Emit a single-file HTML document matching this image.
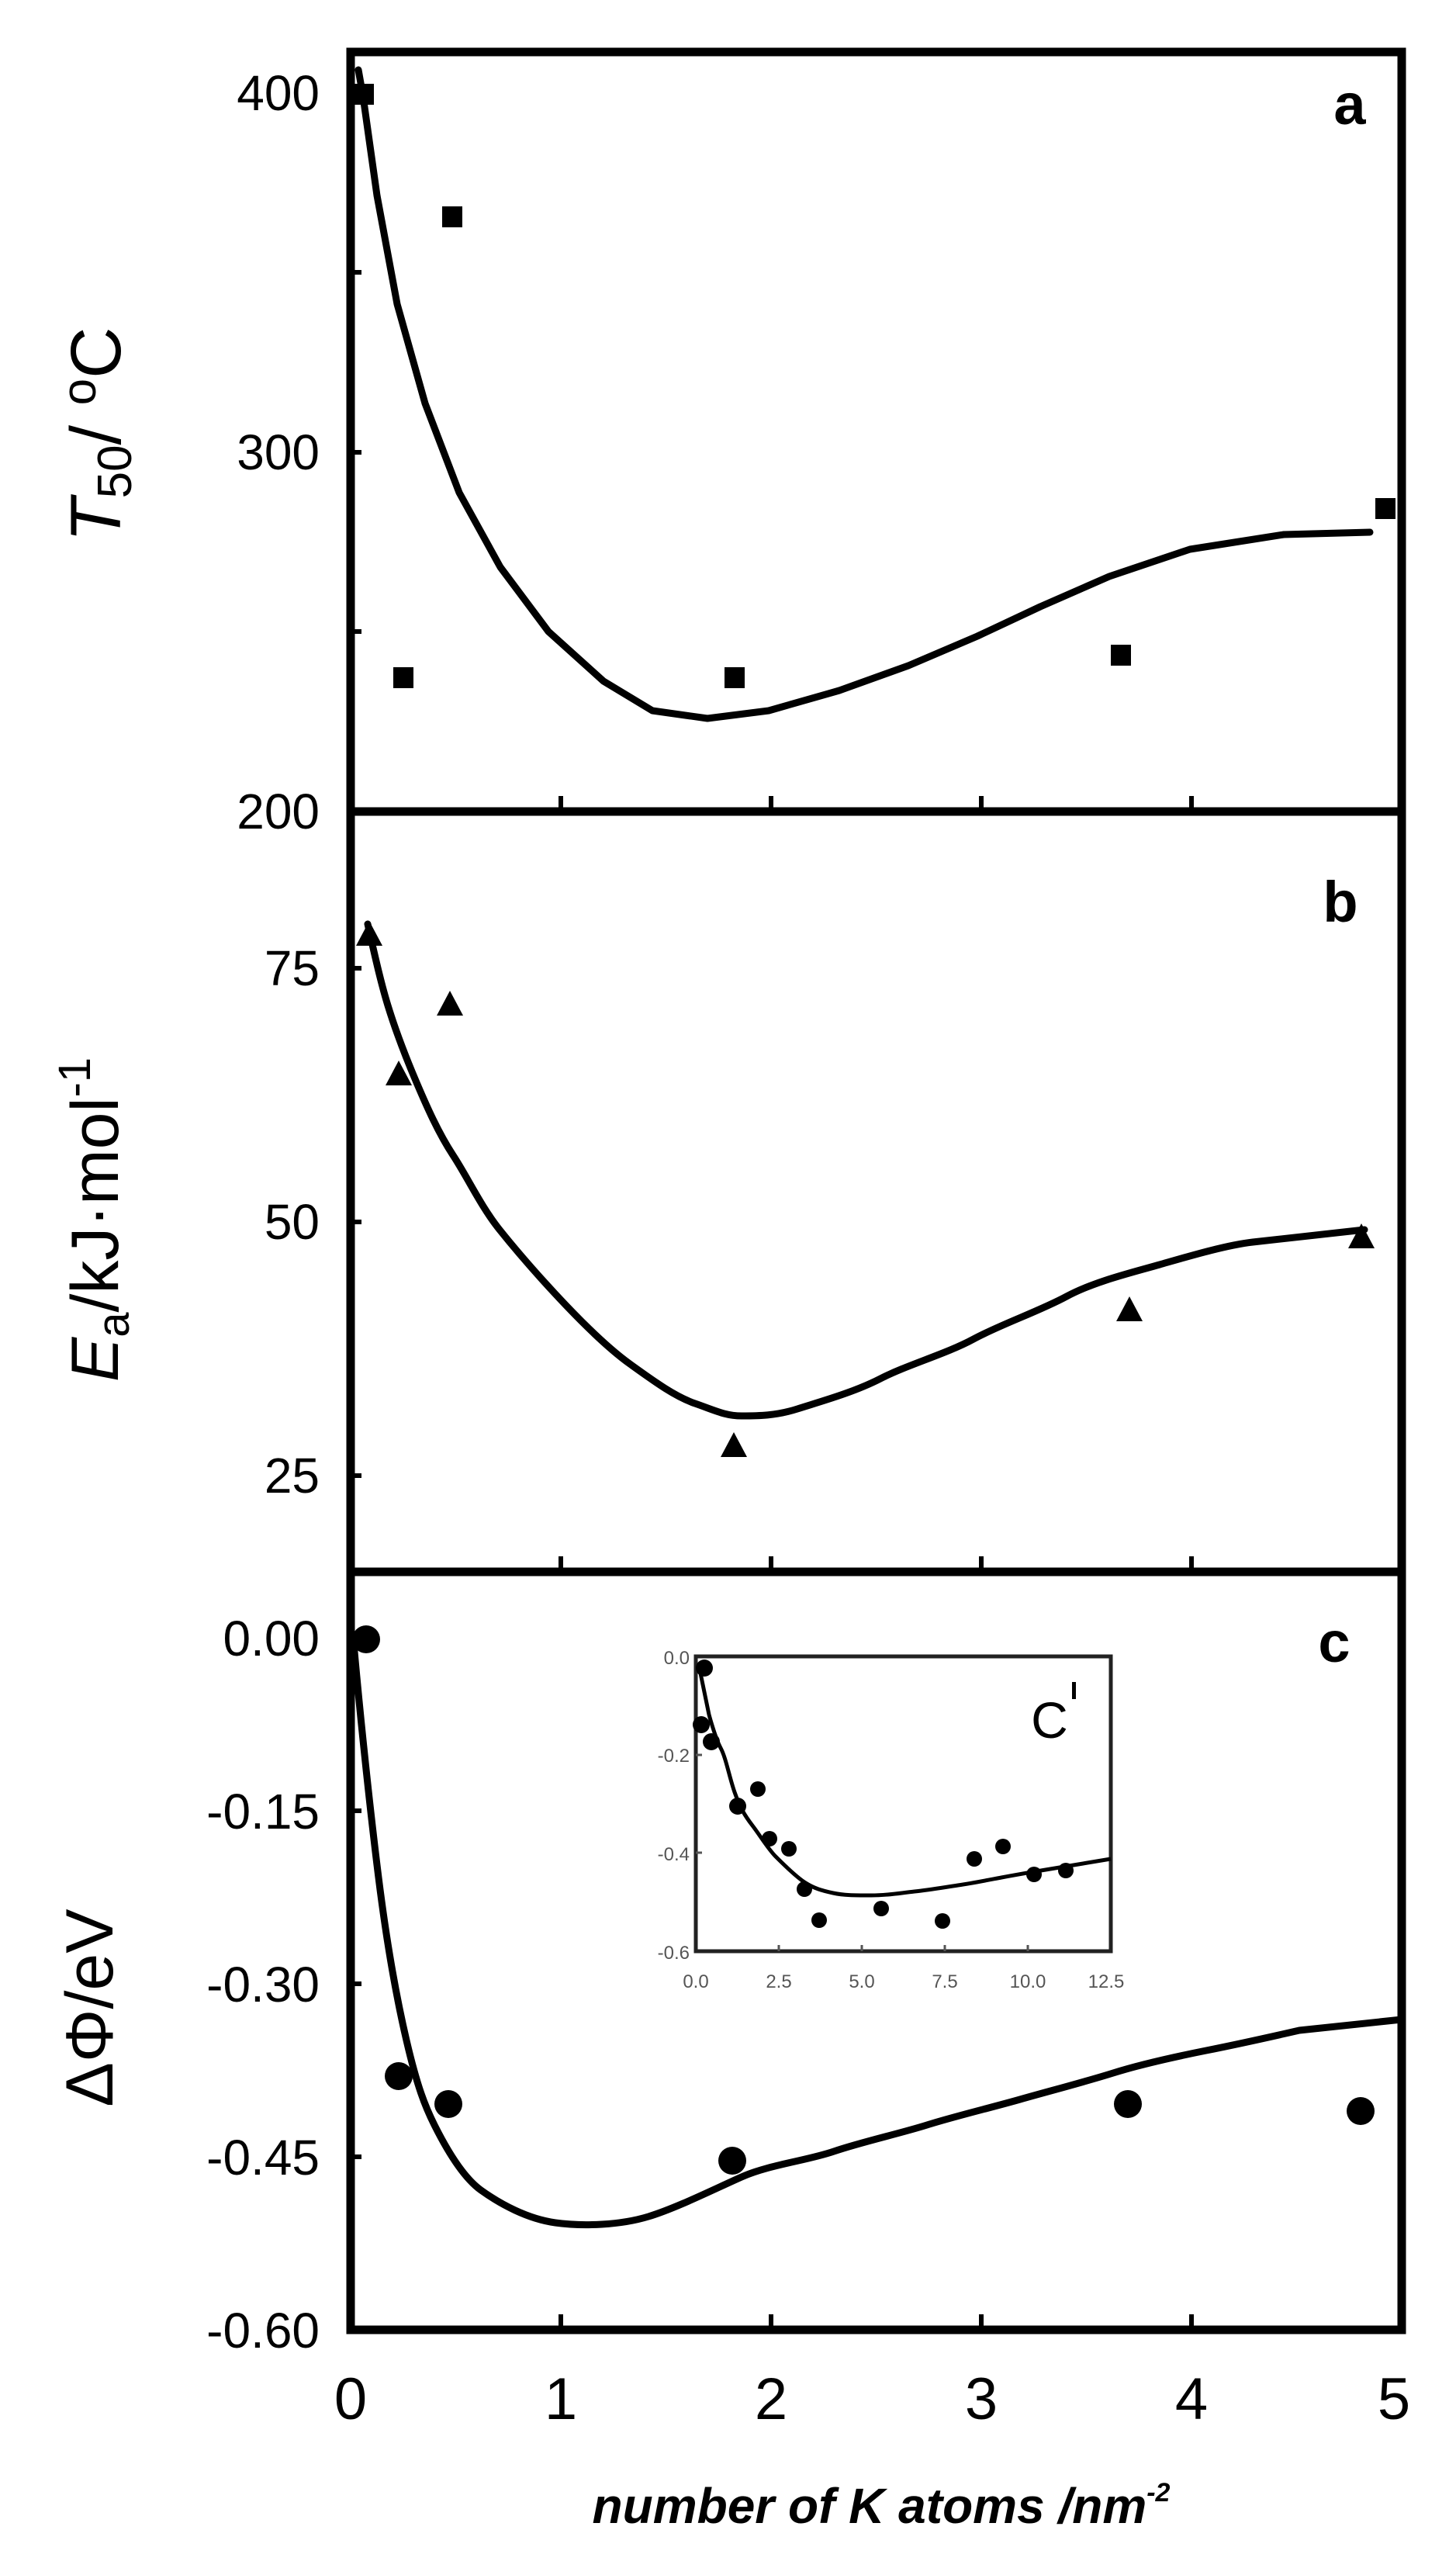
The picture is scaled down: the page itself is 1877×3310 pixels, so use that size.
<!DOCTYPE html>
<html><head><meta charset="utf-8"><style>html,body{margin:0;padding:0;background:#fff}svg{display:block}</style></head>
<body>
<svg width="1877" height="3310" viewBox="0 0 1877 3310" xmlns="http://www.w3.org/2000/svg" font-family="'Liberation Sans', sans-serif">
<rect width="1877" height="3310" fill="#fff"/>
<g fill="none" stroke="#000" stroke-width="11">
<rect x="452" y="67" width="1355" height="2936"/>
<line x1="452" y1="1046" x2="1807" y2="1046"/>
<line x1="452" y1="2026" x2="1807" y2="2026"/>
</g>
<g stroke="#000" stroke-width="6">
<line x1="723" y1="1046" x2="723" y2="1026"/><line x1="994" y1="1046" x2="994" y2="1026"/><line x1="1265" y1="1046" x2="1265" y2="1026"/><line x1="1536" y1="1046" x2="1536" y2="1026"/>
<line x1="723" y1="2026" x2="723" y2="2006"/><line x1="994" y1="2026" x2="994" y2="2006"/><line x1="1265" y1="2026" x2="1265" y2="2006"/><line x1="1536" y1="2026" x2="1536" y2="2006"/>
<line x1="723" y1="3003" x2="723" y2="2983"/><line x1="994" y1="3003" x2="994" y2="2983"/><line x1="1265" y1="3003" x2="1265" y2="2983"/><line x1="1536" y1="3003" x2="1536" y2="2983"/>
<line x1="452" y1="351" x2="466" y2="351"/><line x1="452" y1="583" x2="466" y2="583"/><line x1="452" y1="814" x2="466" y2="814"/>
<line x1="452" y1="1248" x2="466" y2="1248"/><line x1="452" y1="1575" x2="466" y2="1575"/><line x1="452" y1="1902" x2="466" y2="1902"/>
<line x1="452" y1="2334" x2="466" y2="2334"/><line x1="452" y1="2557" x2="466" y2="2557"/><line x1="452" y1="2780" x2="466" y2="2780"/>
</g>
<g font-size="64" text-anchor="end" fill="#000">
<text x="412" y="142">400</text><text x="412" y="605">300</text><text x="412" y="1068">200</text>
<text x="412" y="1270">75</text><text x="412" y="1597">50</text><text x="412" y="1924">25</text>
<text x="412" y="2134">0.00</text><text x="412" y="2357">-0.15</text><text x="412" y="2580">-0.30</text><text x="412" y="2803">-0.45</text><text x="412" y="3026">-0.60</text>
</g>
<g font-size="76" text-anchor="middle">
<text x="452" y="3118">0</text><text x="723" y="3118">1</text><text x="994" y="3118">2</text><text x="1265" y="3118">3</text><text x="1536" y="3118">4</text><text x="1797" y="3118">5</text>
</g>
<text x="1136" y="3252" font-size="64" font-weight="bold" font-style="italic" text-anchor="middle">number of K atoms /nm<tspan font-size="34" dy="-28">-2</tspan></text>
<text transform="translate(155,560) rotate(-90)" font-size="92" text-anchor="middle"><tspan font-style="italic">T</tspan><tspan font-size="62" dy="14">50</tspan><tspan dy="-14">/ </tspan><tspan font-size="62" dy="-32">o</tspan><tspan dy="32">C</tspan></text>
<text transform="translate(152,1572) rotate(-90)" font-size="86" text-anchor="middle"><tspan font-style="italic">E</tspan><tspan font-size="58" dy="14">a</tspan><tspan dy="-14">/kJ·mol</tspan><tspan font-size="58" dy="-36">-1</tspan></text>
<text transform="translate(145,2588) rotate(-90)" font-size="86" text-anchor="middle">ΔΦ/eV</text>
<g font-size="74" font-weight="bold" text-anchor="middle">
<text x="1740" y="160">a</text><text x="1728" y="1188">b</text><text x="1720" y="2142">c</text>
</g>
<g fill="none" stroke="#000" stroke-width="9" stroke-linecap="round" stroke-linejoin="round">
<polyline points="462,90 468,124 486,252 512,392 548,520 592,635 645,731 707,814 778,878 841,916 912,926 991,916 1082,890 1171,858 1260,820 1341,782 1430,743 1534,708 1655,689 1766,686"/>
<path d="M474,1191 C485,1240 492,1270 500,1296 S522,1360 536,1393 S565,1460 584,1489 S620,1555 644,1585 S690,1640 716,1668 S780,1735 812,1758 S870,1800 896,1809 S935,1825 956,1825 S1000,1825 1028,1816 S1100,1795 1135,1777 S1220,1745 1255,1726 S1340,1690 1375,1671 S1460,1640 1495,1630 S1580,1605 1615,1601 L1759,1585"/>
<path d="M456,2118 C465,2220 478,2340 488,2420 S510,2570 524,2630 S548,2715 560,2739 S595,2805 620,2823 S680,2860 716,2865 S800,2868 836,2857 S920,2822 956,2806 S1040,2785 1075,2773 S1160,2750 1195,2739 S1280,2716 1315,2706 S1400,2683 1435,2672 S1520,2650 1555,2643 S1640,2625 1675,2617 L1807,2603"/>
</g>
<g fill="#000">
<rect x="456" y="108" width="26" height="27"/><rect x="570" y="266" width="26" height="27"/><rect x="507" y="860" width="26" height="27"/><rect x="934" y="860" width="26" height="27"/><rect x="1432" y="831" width="26" height="27"/><rect x="1773" y="642" width="26" height="27"/>
<polygon points="476,1187 459,1219 493,1219"/><polygon points="514,1367 497,1399 531,1399"/><polygon points="580,1277 563,1309 597,1309"/><polygon points="946,1846 929,1878 963,1878"/><polygon points="1456,1671 1439,1703 1473,1703"/><polygon points="1755,1577 1738,1609 1772,1609"/>
<circle cx="472" cy="2113" r="18"/><circle cx="514" cy="2676" r="18"/><circle cx="578" cy="2712" r="18"/><circle cx="944" cy="2785" r="18"/><circle cx="1454" cy="2712" r="18"/><circle cx="1754" cy="2721" r="18"/>
</g>
<rect x="897" y="2135" width="535" height="380" fill="#fff" stroke="#222" stroke-width="5"/>
<g stroke="#555" stroke-width="3">
<line x1="1004" y1="2515" x2="1004" y2="2507"/><line x1="1111" y1="2515" x2="1111" y2="2507"/><line x1="1218" y1="2515" x2="1218" y2="2507"/><line x1="1325" y1="2515" x2="1325" y2="2507"/>
<line x1="897" y1="2262" x2="905" y2="2262"/><line x1="897" y1="2388" x2="905" y2="2388"/>
</g>
<g font-size="24" fill="#555" text-anchor="end">
<text x="889" y="2145">0.0</text><text x="889" y="2271">-0.2</text><text x="889" y="2398">-0.4</text><text x="889" y="2525">-0.6</text>
</g>
<g font-size="24" fill="#555" text-anchor="middle">
<text x="897" y="2562">0.0</text><text x="1004" y="2562">2.5</text><text x="1111" y="2562">5.0</text><text x="1218" y="2562">7.5</text><text x="1325" y="2562">10.0</text><text x="1426" y="2562">12.5</text>
</g>
<path d="M901,2147 L914,2210 S922,2240 929,2253 S940,2290 947,2310 S960,2340 970,2353 S990,2383 1000,2393 S1025,2418 1037,2426 S1060,2437 1074,2440 S1100,2443 1123,2443 S1160,2440 1179,2438 S1215,2433 1235,2430 S1275,2423 1291,2420 S1330,2413 1348,2410 L1432,2396" fill="none" stroke="#000" stroke-width="5"/>
<g fill="#000">
<circle cx="908" cy="2150" r="11"/><circle cx="904" cy="2223" r="11"/><circle cx="917" cy="2245" r="11"/><circle cx="951" cy="2328" r="11"/><circle cx="977" cy="2306" r="10"/><circle cx="992" cy="2370" r="10"/><circle cx="1017" cy="2383" r="10"/><circle cx="1037" cy="2435" r="10"/><circle cx="1056" cy="2475" r="10"/><circle cx="1136" cy="2460" r="10"/><circle cx="1215" cy="2476" r="10"/><circle cx="1256" cy="2396" r="10"/><circle cx="1293" cy="2380" r="10"/><circle cx="1333" cy="2416" r="10"/><circle cx="1374" cy="2411" r="10"/>
</g>
<text x="1353" y="2240" font-size="66" text-anchor="middle">C</text>
<rect x="1382" y="2168" width="5" height="22" fill="#000"/>
</svg>
</body></html>
